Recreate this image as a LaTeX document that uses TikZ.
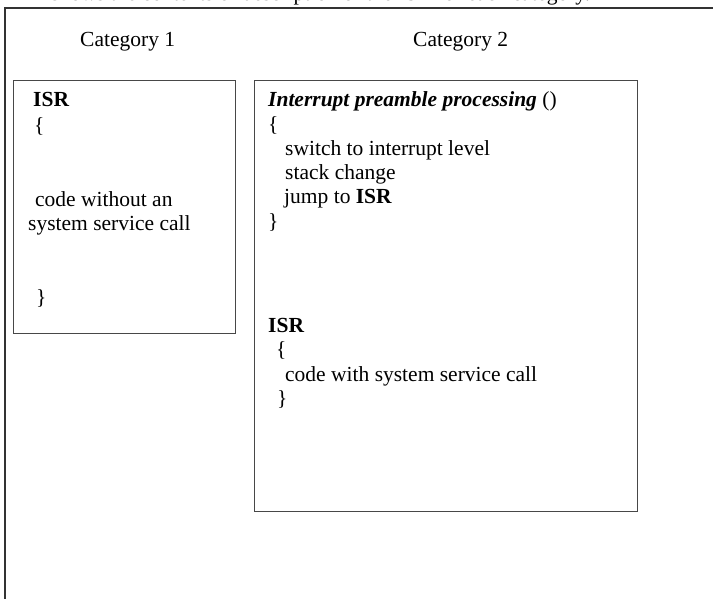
\documentclass[tikz,border=0pt]{standalone}
\usepackage{fontspec}
\setmainfont{Liberation Serif}
\begin{document}
\begin{tikzpicture}[x=1pt,y=-1pt,
  txt/.style={anchor=base west, inner sep=0pt, font=\fontsize{21.5}{24}\selectfont},
  frameline/.style={draw=black!80, line width=2pt},
  box/.style={draw=black!72, line width=1.3pt, inner sep=0pt, anchor=north west}]
\useasboundingbox (0,0) rectangle (713,599);
\clip (0,0) rectangle (713,599);
% cut-off caption line at the very top
\node[txt] (intro) at (51,0.3) {shows the contents of description of the ISR for each category.};
% outer frame (cut off at right and bottom)
\coordinate (fbot) at (5,600);
\coordinate (fcorner) at (5,8);
\coordinate (fright) at (714,8);
\draw[frameline] (fbot) -- (fcorner) -- (fright);
% headings
\node[txt] (cat1) at (80,47) {Category 1};
\node[txt] (cat2) at (413,47) {Category 2};
% category 1 box
\node[box, minimum width=222pt, minimum height=253pt] (box1) at (13,80) {};
\node[txt] (isr1) at (33,107) {\textbf{ISR}};
\node[txt] (ob1) at (34,133) {\{};
\node[txt] (code1a) at (35,207) {code without an};
\node[txt] (code1b) at (28,230) {system service call};
\node[txt] (cb1) at (36,305) {\}};
% category 2 box
\node[box, minimum width=383pt, minimum height=431pt] (box2) at (254,80) {};
\node[txt] (pre) at (268,107) {\textbf{\textit{Interrupt preamble processing}} ()};
\node[txt] (ob2) at (268,132) {\{};
\node[txt] (sw) at (285,156) {switch to interrupt level};
\node[txt] (stk) at (285,180) {stack change};
\node[txt] (jmp) at (284,204) {jump to \textbf{ISR}};
\node[txt] (cb2) at (268,229) {\}};
\node[txt] (isr2) at (268,332) {\textbf{ISR}};
\node[txt] (ob3) at (276,356) {\{};
\node[txt] (code2) at (285,381) {code with system service call};
\node[txt] (cb3) at (277,405) {\}};
\end{tikzpicture}
\end{document}
